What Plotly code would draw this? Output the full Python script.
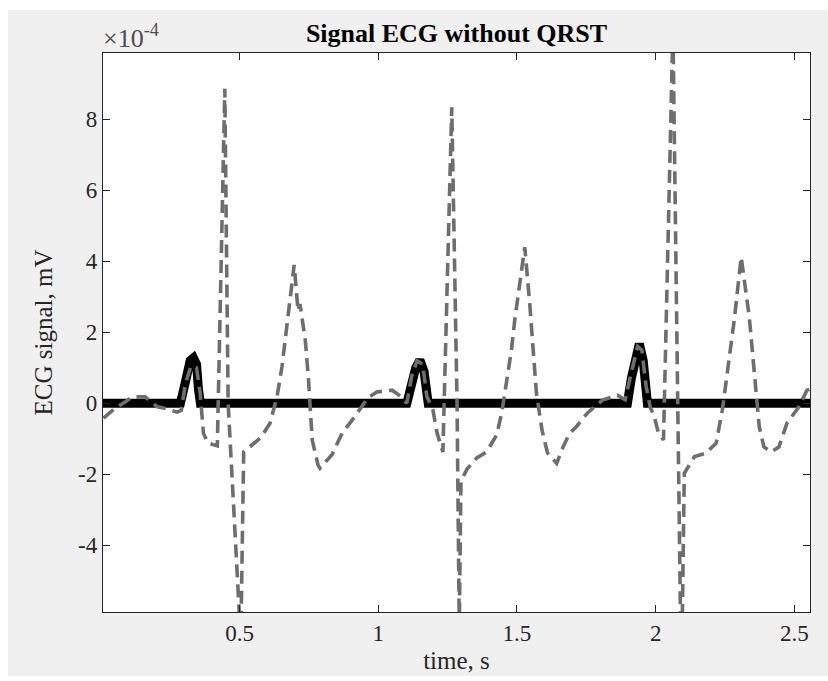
import plotly.graph_objects as go

# ---- data (values in units of 1e-4 mV) ----
qrs_t = [0.008, 0.287, 0.305, 0.322, 0.334, 0.345, 0.352, 0.359,
         1.103, 1.118, 1.135, 1.150, 1.165, 1.180,
         1.898, 1.912, 1.928, 1.941, 1.955, 1.970, 2.556]
qrs_v = [0, 0, 0.6, 1.2, 1.28, 1.1, 0.4, 0,
         0, 0.6, 1.0, 1.22, 0.9, 0,
         0, 0.7, 1.4, 1.68, 1.2, 0, 0]

ecg_t = [0.010, 0.053, 0.090, 0.114, 0.160, 0.204, 0.226, 0.275, 0.290, 0.305,
         0.325, 0.345, 0.358, 0.370, 0.387, 0.420, 0.447, 0.459, 0.499, 0.505,
         0.515, 0.575, 0.610, 0.635, 0.653, 0.671, 0.682, 0.697, 0.711, 0.718,
         0.737, 0.748, 0.762, 0.783, 0.790, 0.833, 0.870, 0.915, 0.962, 0.995,
         1.050, 1.080, 1.103, 1.120, 1.140, 1.160, 1.175, 1.197, 1.212, 1.233,
         1.265, 1.284, 1.292, 1.298, 1.320, 1.355, 1.390, 1.427, 1.445, 1.463,
         1.480, 1.492, 1.500, 1.528, 1.546, 1.556, 1.570, 1.590, 1.610, 1.643,
         1.666, 1.690, 1.714, 1.754, 1.808, 1.862, 1.890, 1.910, 1.935, 1.950,
         1.965, 1.980, 1.995, 2.010, 2.028, 2.062, 2.089, 2.095, 2.103, 2.140,
         2.180, 2.218, 2.240, 2.253, 2.272, 2.283, 2.308, 2.337, 2.348, 2.362,
         2.373, 2.390, 2.416, 2.444, 2.473, 2.516, 2.545, 2.556]
ecg_v = [-0.42, -0.13, 0.05, 0.18, 0.18, -0.10, -0.13, -0.25, -0.20, 0.55,
         1.05, 1.00, 0.30, -0.85, -1.12, -1.20, 8.86, 0.00, -5.88, -6.50,
         -1.37, -0.98, -0.56, 0.18, 1.03, 2.15, 2.90, 3.90, 2.60, 2.80,
         1.78, 0.74, -1.03, -1.74, -1.83, -1.45, -0.84, -0.38, 0.15, 0.32,
         0.37, 0.20, 0.00, 0.75, 1.20, 1.10, 0.20, -0.19, -0.84, -1.37,
         8.34, 0.00, -6.30, -2.20, -1.85, -1.54, -1.37, -0.89, -0.27, 0.57,
         1.50, 2.35, 2.82, 4.40, 2.80, 1.59, 0.29, -0.75, -1.40, -1.69,
         -1.23, -0.84, -0.66, -0.27, 0.09, 0.23, 0.10, 0.80, 1.60, 1.50,
         0.50, -0.10, -0.38, -0.84, -1.03, 10.60, -5.88, -6.50, -1.97, -1.50,
         -1.41, -1.12, -0.19, 0.57, 1.59, 2.35, 4.12, 2.44, 1.50, 0.18,
         -0.66, -1.23, -1.37, -1.23, -0.56, -0.10, 0.37, 0.40]

x_range = [0.008, 2.556]
y_range = [-5.88, 9.87]
y_ticks = [-4, -2, 0, 2, 4, 6, 8]
x_ticks = [0.5, 1, 1.5, 2, 2.5]

# ---- layout geometry ----
W, H = 828, 681
L, R, T, B = 103, 18, 53, 69
pw, ph = W - L - R, H - T - B
FONT = "Liberation Serif"
AX = "#262626"

def px2paper_x(px):
    return (px - L) / pw

def py2paper_y(py):
    return (H - B - py) / ph

fig = go.Figure()
fig.add_trace(go.Scatter(x=qrs_t, y=qrs_v, mode="lines",
                         line=dict(color="black", width=9), showlegend=False))
fig.add_trace(go.Scatter(x=ecg_t, y=ecg_v, mode="lines",
                         line=dict(color="#6e6e6e", width=3.6, dash="13px,7px"),
                         showlegend=False))

axis_common = dict(showline=True, linecolor=AX, linewidth=1.3, mirror="allticks",
                   ticks="inside", ticklen=7, tickwidth=1.3, tickcolor=AX,
                   showgrid=False, zeroline=False,
                   tickfont=dict(family=FONT, size=23, color=AX))

fig.update_layout(
    width=W, height=H,
    margin=dict(l=L, r=R, t=T, b=B, autoexpand=False),
    paper_bgcolor="white", plot_bgcolor="white",
    title=dict(text="<b>Signal ECG without QRST</b>",
               font=dict(family=FONT, size=26, color="black"),
               x=(L + pw / 2) / W, xanchor="center",
               y=1 - 33 / H, yanchor="middle"),
    xaxis=dict(range=x_range, tickvals=x_ticks, ticktext=["0.5", "1", "1.5", "2", "2.5"],
               title=dict(text="time, s", standoff=6,
                          font=dict(family=FONT, size=25, color=AX)),
               **axis_common),
    yaxis=dict(range=y_range, tickvals=y_ticks, ticktext=[str(v) for v in y_ticks],
               title=dict(text="ECG signal, mV", standoff=18,
                          font=dict(family=FONT, size=25, color=AX)),
               **axis_common),
    shapes=[
        dict(type="rect", xref="paper", yref="paper", layer="below",
             x0=px2paper_x(8), x1=px2paper_x(W + 2), y0=py2paper_y(676), y1=py2paper_y(10),
             fillcolor="#f0f0f0", line=dict(width=0)),
        dict(type="rect", xref="paper", yref="paper", layer="below",
             x0=0, x1=1, y0=0, y1=1, fillcolor="white", line=dict(width=0)),
    ],
    annotations=[
        dict(text="×10<sup>-4</sup>", xref="paper", yref="paper", x=0, y=1,
             xanchor="left", yanchor="bottom", showarrow=False, yshift=-2, xshift=-2,
             font=dict(family=FONT, size=26, color="#4d4d4d")),
    ],
)

fig.write_html("out.html")
